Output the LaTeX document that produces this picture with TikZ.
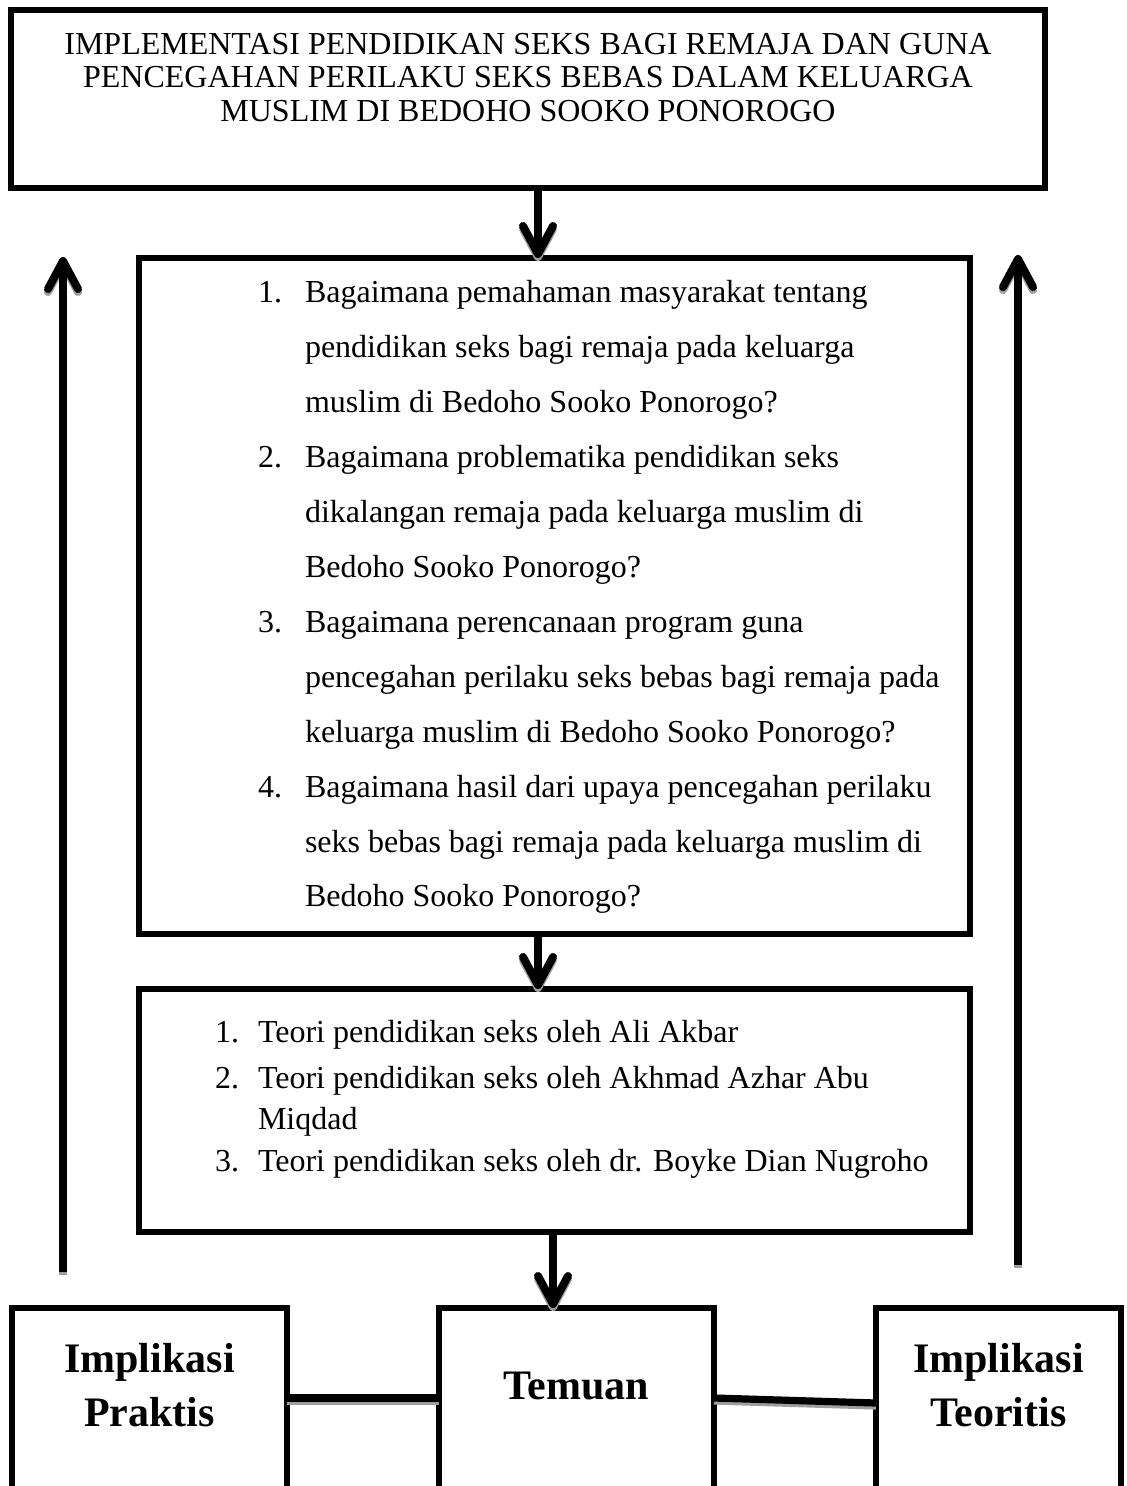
\documentclass[tikz,border=0pt]{standalone}
\usepackage{fontspec}
\setmainfont{Liberation Serif}
\usetikzlibrary{arrows.meta}

\begin{document}
\begin{tikzpicture}[x=0.5pt,y=-0.5pt,
  box/.style={draw, rectangle, line width=3pt, inner sep=0pt, outer sep=0pt},
  flow/.style={line width=4pt, -{Straight Barb[length=14pt,width=15pt,round]}},
  link/.style={line width=3.6pt},
  drop/.style={draw=black!38, transform canvas={yshift=-1.5pt}},
  txt/.style={inner sep=0pt, outer sep=0pt, font=\fontsize{16}{19}\selectfont},
  big/.style={inner sep=0pt, outer sep=0pt, anchor=base, font=\fontsize{21}{24}\selectfont\bfseries},
]
\useasboundingbox (0,0) rectangle (1126,1486);
\clip (0,0) rectangle (1126,1486);

% boxes
\node[box, minimum width=517pt, minimum height=89pt] (top) at (528,99) {};
\node[box, minimum width=415.5pt, minimum height=338pt] (q) at (554.5,596) {};
\node[box, minimum width=415.5pt, minimum height=121.5pt] (th) at (554.5,1110.5) {};
\node[box, minimum width=137.5pt, minimum height=136pt] (lp) at (149.5,1444) {};
\node[box, minimum width=137.5pt, minimum height=136pt] (tm) at (576.5,1444) {};
\node[box, minimum width=122.5pt, minimum height=136pt] (rt) at (998.5,1444) {};

% title
\foreach \l/\y [count=\i] in {IMPLEMENTASI PENDIDIKAN SEKS BAGI REMAJA DAN GUNA/55,
  PENCEGAHAN PERILAKU SEKS BEBAS DALAM KELUARGA/88,
  MUSLIM DI BEDOHO SOOKO PONOROGO/122}
  \node[txt, anchor=base] (title\i) at (528,\y) {\l};

% research questions
\foreach \n/\l [count=\i from 0] in {
  1./Bagaimana pemahaman masyarakat tentang,
  /pendidikan seks bagi remaja pada keluarga,
  /muslim di Bedoho Sooko Ponorogo?,
  2./Bagaimana problematika pendidikan seks,
  /dikalangan remaja pada keluarga muslim di,
  /Bedoho Sooko Ponorogo?,
  3./Bagaimana perencanaan program guna,
  /pencegahan perilaku seks bebas bagi remaja pada,
  /keluarga muslim di Bedoho Sooko Ponorogo?,
  4./Bagaimana hasil dari upaya pencegahan perilaku,
  /seks bebas bagi remaja pada keluarga muslim di,
  /Bedoho Sooko Ponorogo?}
{
  \node[txt, anchor=base west] (qn\i) at (258,303+54.9*\i) {\n};
  \node[txt, anchor=base west] (ql\i) at (305,303+54.9*\i) {\l};
}

% theories
\foreach \n/\l/\y [count=\i] in {
  1./Teori pendidikan seks oleh Ali Akbar/1042,
  2./Teori pendidikan seks oleh Akhmad Azhar Abu/1088,
  /Miqdad/1129,
  3./Teori pendidikan seks oleh dr. Boyke Dian Nugroho/1171}
{
  \node[txt, anchor=base west] (tn\i) at (215,\y) {\n};
  \node[txt, anchor=base west] (tl\i) at (258,\y) {\l};
}

% bottom labels
\node[big] (lp1) at (149.5,1372) {Implikasi};
\node[big] (lp2) at (149.5,1426) {Praktis};
\node[big] (tm1) at (576.5,1399) {Temuan};
\node[big] (rt1) at (998.5,1372) {Implikasi};
\node[big] (rt2) at (998.5,1426) {Teoritis};

% connector helpers
\coordinate (a1) at (538,0);
\coordinate (a3) at (553,0);
\coordinate (k1) at (0,1398);
\coordinate (k2) at (0,1403);
\coordinate (lb) at (63,1272);
\coordinate (lt) at (63,257);
\coordinate (rb) at (1018,1265);
\coordinate (rtp) at (1018,255);

% shadows
\draw[flow, drop] (top.south -| a1) -- (q.north -| a1);
\draw[flow, drop] (q.south -| a1) -- (th.north -| a1);
\draw[flow, drop] (th.south -| a3) -- (tm.north -| a3);
\draw[flow, drop] (lb) -- (lt);
\draw[flow, drop] (rb) -- (rtp);
\draw[link, drop] (lp.east |- k1) -- (tm.west |- k1);
\draw[link, drop] (tm.east |- k1) -- (rt.west |- k2);

% connectors
\draw[flow] (top.south -| a1) -- (q.north -| a1);
\draw[flow] (q.south -| a1) -- (th.north -| a1);
\draw[flow] (th.south -| a3) -- (tm.north -| a3);
\draw[flow] (lb) -- (lt);
\draw[flow] (rb) -- (rtp);
\draw[link] (lp.east |- k1) -- (tm.west |- k1);
\draw[link] (tm.east |- k1) -- (rt.west |- k2);
\end{tikzpicture}
\end{document}
